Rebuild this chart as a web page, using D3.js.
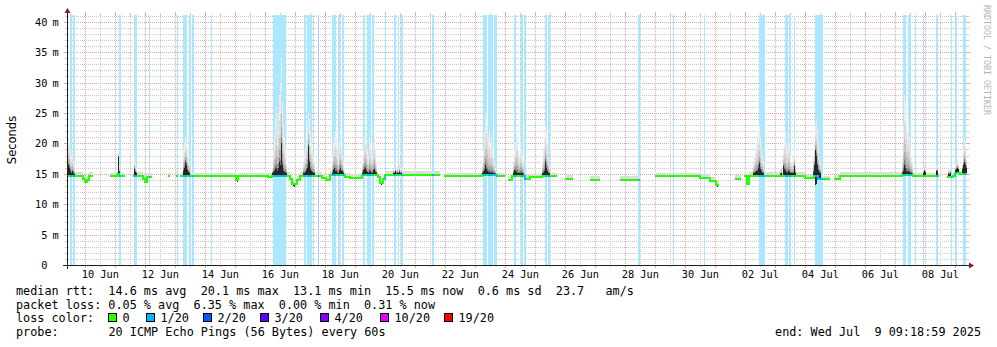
<!DOCTYPE html>
<html>
<head>
<meta charset="utf-8">
<title>SmokePing latency – last 30 days</title>
<script src="https://cdn.jsdelivr.net/npm/d3@7/dist/d3.min.js"></script>
<style>
  html, body { margin: 0; padding: 0; background: #ffffff; }
  svg { display: block; }
  .mono { font-family: "DejaVu Sans Mono", "Liberation Mono", monospace; }
  .sans { font-family: "DejaVu Sans", "Liberation Sans", sans-serif; }
</style>
</head>
<body>
<svg id="chart" width="997" height="347"></svg>
<script>
// ---------------- data ----------------
const rangeStart = "2025-06-09 09:18:59";
const rangeEnd = "2025-07-09 09:18:59";
const stepMinutes = 48;                 // consolidated sample width

const yTickValues = [0, 5, 10, 15, 20, 25, 30, 35, 40];
const yMinorStep = 1;
const yUnit = "m";
const yTop = 41.1;
const dayLabels = ["06-10", "06-12", "06-14", "06-16", "06-18", "06-20", "06-22",
                   "06-24", "06-26", "06-28", "06-30", "07-02", "07-04", "07-06", "07-08"];

const lossCounts = ["0", "1/20", "2/20", "3/20", "4/20", "10/20", "19/20"];
const lossColors = ["#26ff00", "#00b8ff", "#0059ff", "#5e00ff", "#7e00ff", "#dd00ff", "#ff0000"];

// median round trip time: [from, to, ms]
const medianRuns = [
  ["06-09 09:19", "06-09 22:07", 14.7], ["06-09 22:07", "06-09 23:43", 14.2],
  ["06-09 23:43", "06-10 01:19", 13.6], ["06-10 01:19", "06-10 02:55", 14.0],
  ["06-10 02:55", "06-10 06:07", 14.7],
  ["06-10 19:43", "06-11 01:19", 14.6], ["06-11 01:19", "06-11 02:55", 14.9],
  ["06-11 02:55", "06-11 07:43", 14.6],
  ["06-11 14:07", "06-11 22:07", 14.7], ["06-11 22:07", "06-11 23:43", 14.1],
  ["06-11 23:43", "06-12 01:19", 13.7], ["06-12 01:19", "06-12 05:19", 14.5],
  ["06-12 18:07", "06-12 19:43", 14.6],
  ["06-13 00:31", "06-13 02:07", 14.7],
  ["06-13 03:43", "06-15 00:31", 14.6], ["06-15 00:31", "06-15 02:07", 14.0],
  ["06-15 02:07", "06-16 02:07", 14.6], ["06-16 02:07", "06-16 05:19", 14.5],
  ["06-16 05:19", "06-16 19:43", 14.7], ["06-16 19:43", "06-16 21:19", 14.2],
  ["06-16 21:19", "06-17 01:19", 13.3], ["06-17 01:19", "06-17 03:43", 14.0],
  ["06-17 03:43", "06-17 21:19", 14.7], ["06-17 21:19", "06-18 00:31", 14.3],
  ["06-18 00:31", "06-18 03:43", 14.0], ["06-18 03:43", "06-18 15:43", 14.8],
  ["06-18 15:43", "06-18 19:43", 14.5], ["06-18 19:43", "06-19 05:19", 14.3],
  ["06-19 05:19", "06-19 18:07", 14.8], ["06-19 18:07", "06-19 19:43", 14.4],
  ["06-19 19:43", "06-19 22:07", 13.5], ["06-19 22:07", "06-19 23:43", 14.2],
  ["06-19 23:43", "06-21 19:43", 14.8],
  ["06-21 22:55", "06-23 05:19", 14.6], ["06-23 05:19", "06-23 17:19", 14.8],
  ["06-23 17:19", "06-23 23:43", 14.6],
  ["06-24 02:07", "06-24 05:19", 14.0], ["06-24 05:19", "06-24 15:43", 14.6],
  ["06-24 15:43", "06-24 19:43", 14.2], ["06-24 19:43", "06-25 05:19", 14.4],
  ["06-25 05:19", "06-25 10:55", 14.7], ["06-25 10:55", "06-25 17:19", 14.6],
  ["06-25 23:43", "06-26 06:07", 14.2],
  ["06-26 19:43", "06-27 03:43", 14.0],
  ["06-27 19:43", "06-28 11:43", 14.0],
  ["06-28 23:43", "06-30 11:43", 14.6], ["06-30 11:43", "06-30 19:43", 14.3],
  ["06-30 19:43", "07-01 00:31", 13.8], ["07-01 00:31", "07-01 02:55", 13.2],
  ["07-01 15:43", "07-01 20:31", 14.2],
  ["07-01 22:55", "07-02 01:19", 14.6], ["07-02 01:19", "07-02 02:55", 13.3],
  ["07-02 02:55", "07-03 23:43", 14.7], ["07-03 23:43", "07-04 06:55", 14.3],
  ["07-04 06:55", "07-04 10:07", 14.6], ["07-04 10:07", "07-04 19:43", 14.1],
  ["07-04 22:55", "07-05 03:43", 14.2], ["07-05 03:43", "07-07 05:19", 14.7],
  ["07-07 05:19", "07-07 14:07", 14.8], ["07-07 14:07", "07-08 10:55", 14.6],
  ["07-08 17:19", "07-08 22:07", 14.4], ["07-08 22:07", "07-08 23:43", 14.6],
  ["07-08 23:43", "07-09 03:43", 15.2], ["07-09 03:43", "07-09 09:19", 14.9]
];

// periods with lost pings: [from, to, lost out of 20]
const lossPeriods = [
  ["06-09 11:43", "06-09 13:19", 1], ["06-09 14:07", "06-09 15:43", 1],
  ["06-11 02:55", "06-11 04:31", 1], ["06-11 14:55", "06-11 17:19", 1],
  ["06-12 02:55", "06-12 03:43", 1], ["06-13 01:19", "06-13 02:07", 1],
  ["06-13 06:07", "06-13 09:19", 1], ["06-13 10:55", "06-13 12:31", 1],
  ["06-13 13:19", "06-13 14:55", 1], ["06-14 04:31", "06-14 05:19", 1],
  ["06-16 06:07", "06-16 16:31", 1],
  ["06-17 06:55", "06-17 08:31", 1], ["06-17 09:19", "06-17 13:19", 1],
  ["06-17 14:07", "06-17 14:55", 1], ["06-17 18:07", "06-17 18:55", 2],
  ["06-18 05:19", "06-18 08:31", 1], ["06-18 10:07", "06-18 11:43", 1],
  ["06-18 13:19", "06-18 14:55", 1],
  ["06-19 06:07", "06-19 07:43", 1], ["06-19 09:19", "06-19 12:31", 1],
  ["06-19 13:19", "06-19 14:55", 1], ["06-19 23:43", "06-20 00:31", 1],
  ["06-20 06:55", "06-20 08:31", 1], ["06-20 10:07", "06-20 10:55", 1],
  ["06-20 12:31", "06-20 14:07", 1], ["06-21 13:19", "06-21 14:55", 1],
  ["06-23 06:07", "06-23 09:19", 1], ["06-23 10:07", "06-23 14:07", 1],
  ["06-23 14:55", "06-23 17:19", 1],
  ["06-24 06:55", "06-24 08:31", 1], ["06-24 12:31", "06-24 14:07", 1],
  ["06-24 14:55", "06-24 16:31", 1],
  ["06-25 07:43", "06-25 09:19", 1], ["06-25 10:07", "06-25 11:43", 1],
  ["06-28 10:07", "06-28 11:43", 1], ["06-29 14:07", "06-29 14:55", 1],
  ["06-30 14:55", "06-30 15:43", 1],
  ["07-02 10:55", "07-02 15:43", 1],
  ["07-03 07:43", "07-03 10:07", 1], ["07-03 10:55", "07-03 12:31", 1],
  ["07-03 14:55", "07-03 15:43", 1], ["07-04 07:43", "07-04 14:07", 1],
  ["07-07 06:07", "07-07 08:31", 1], ["07-07 10:07", "07-07 12:31", 1],
  ["07-07 15:43", "07-07 16:31", 1], ["07-07 22:07", "07-07 22:55", 1],
  ["07-08 08:31", "07-08 10:07", 1], ["07-08 20:31", "07-08 21:19", 1],
  ["07-08 23:43", "07-09 01:19", 1], ["07-09 06:07", "07-09 08:31", 1]
];

// ordinary spread of the pings above the median (ms)
const smokeSpread = 0.6;

// bursts of slow pings: [first sample, slowest ping per sample, upper edge of the dense core]
const smokeBursts = [
  ["06-09 09:19", [19.5, 21, 20, 19, 18, 18.5, 17.5, 16.5], [15.5, 16.5, 16, 15.5, 15.2, 15.5, 15.1, 15]],
  ["06-11 02:07", [18.5, 16.5], [17.8, 15.3]],
  ["06-11 14:55", [18, 17, 16], [15.8, 15.3, 15.1]],
  ["06-13 06:07", [19, 20, 21, 20, 19, 18, 17], [15.5, 16, 17, 16.5, 15.6, 15.3, 15.1]],
  ["06-16 05:19", [16, 19, 21, 24, 26, 22, 25, 28, 30, 34, 27, 23, 21, 19, 17],
                  [15.1, 15.3, 15.5, 15.8, 16, 15.5, 16, 17, 16.5, 20, 16.5, 15.5, 15.3, 15.2, 15.1]],
  ["06-17 06:07", [17, 18, 19, 21, 23, 25, 24, 22, 20, 19, 18, 17],
                  [15.1, 15.2, 15.3, 15.6, 16, 19.5, 17, 15.8, 15.4, 15.3, 15.2, 15.1]],
  ["06-18 05:19", [18, 20, 21, 22, 21, 19, 18, 20, 22, 19, 18, 17],
                  [15.2, 15.6, 16, 15.5, 15.4, 15.2, 15.1, 15.6, 16, 15.4, 15.5, 15.2]],
  ["06-19 05:19", [17, 19, 21, 22, 20, 19, 18, 21, 20, 19, 18, 20, 21, 19, 17],
                  [15.1, 15.6, 15.8, 16, 15.5, 15.3, 15.2, 15.5, 15.3, 15.2, 15.2, 15.6, 15.8, 15.3, 15.1]],
  ["06-20 06:07", [16, 15.8, 17, 16, 16.5, 16, 17, 16, 16], [15.2, 15.1, 15.4, 15.1, 15.2, 15.1, 15.3, 15.1, 15.2]],
  ["06-23 05:19", [17, 19, 22, 24, 25, 23, 21, 22, 20, 21, 19, 18, 17, 16],
                  [15.1, 15.3, 15.6, 16.4, 15.8, 15.5, 15.3, 15.3, 15.2, 15.3, 15.2, 15.1, 15.1, 15.0]],
  ["06-24 06:07", [17, 19, 20, 22, 21, 19, 18, 20, 19, 18, 17],
                  [15.1, 15.6, 15.5, 15.3, 15.2, 15.1, 15.1, 15.2, 15.2, 15.1, 15.0]],
  ["06-25 05:19", [17, 19, 21, 23, 22, 20, 18, 16.5], [15.1, 15.2, 15.5, 17, 16, 15.4, 15.2, 15.1]],
  ["07-02 06:07", [17, 18, 19, 20, 21, 22, 23, 21, 19, 18, 17],
                  [15.1, 15.2, 15.3, 15.4, 15.5, 16, 16.7, 15.8, 15.4, 15.2, 15.1]],
  ["07-03 03:43", [16, 16.5], [15, 15.1]],
  ["07-03 06:07", [19, 21, 22, 20, 19, 21, 20, 18, 17, 17, 18, 19, 17],
                  [16.3, 15.8, 15.5, 15.3, 15.2, 15.4, 15.3, 15.2, 15.1, 15.1, 15.2, 16.3, 15.2]],
  ["07-04 06:07", [18, 20, 23, 24, 22, 20, 18, 17], [15.3, 16.5, 18.9, 18, 16.5, 15.6, 15.3, 15.1]],
  ["07-07 05:19", [18, 23, 28, 27, 24, 22, 24, 21, 19, 18, 17],
                  [15.1, 15.5, 16.5, 16, 15.5, 15.3, 15.5, 15.3, 15.2, 15.1, 15.0]],
  ["07-07 22:07", [16, 16.5, 16], [15.2, 15.5, 15.3]],
  ["07-08 08:31", [16.5, 16.3], [15.5, 15.4]],
  ["07-08 18:07", [15.8, 15.6, 16], [15, 15, 15.2]],
  ["07-08 23:43", [16.5, 17, 17.2, 16.5], [15.6, 15.8, 16, 15.8]],
  ["07-09 05:19", [17, 19, 21, 20, 18], [15.8, 16.5, 17, 16.5, 16]]
];

// fastest pings where they drop below the median: [first sample, ms per sample]
const smokeDips = [
  ["06-09 23:43", [13.4, 13.5]],
  ["06-12 00:31", [13.5, 13.6]],
  ["06-15 01:19", [13.7]],
  ["06-16 22:07", [13.0, 12.9, 13.1, 13.2]],
  ["06-19 20:31", [13.2, 13.3]],
  ["07-01 01:19", [12.9, 13.0]],
  ["07-02 02:07", [13.1]],
  ["07-04 07:43", [13.2, 13.3]]
];

const rttStats = [14.6, 20.1, 13.1, 15.5];
const lossStats = [0.05, 6.35, 0.00, 0.31];
const statNames = ["avg", "max", "min", "now"];
const rttSd = 0.6;
const rttAmS = 23.7;
const probeText = "20 ICMP Echo Pings (56 Bytes) every 60s";

// ---------------- drawing ----------------
const svg = d3.select("#chart");
const parseFull = d3.timeParse("%Y-%m-%d %H:%M:%S");
const parseShort = d3.timeParse("%Y-%m-%d %H:%M");
const T = s => parseShort("2025-" + s);
const stepMs = stepMinutes * 60000;

const plot = { left: 67, right: 967, top: 15, bottom: 265 };
const x = d3.scaleTime().domain([parseFull(rangeStart), parseFull(rangeEnd)]).range([plot.left, plot.right]);
const y = d3.scaleLinear().domain([0, yTop]).range([plot.bottom, plot.top]);

const gridColor = "#c9c9c9";
const mgridColor = "#eba3a3";
const arrowColor = "#801f1f";
const axisColor = "#1f1f1f";
const lighten = c => d3.interpolateRgb(c, "#ffffff")(0.67);

const runs = medianRuns.map(([a, b, v]) => ({ from: T(a), to: T(b), v }));
const medianAt = t => { const r = runs.find(r => t >= r.from && t < r.to); return r ? r.v : 14.6; };
const px = v => Math.round(v);

// grid
const gGrid = svg.append("g").attr("shape-rendering", "crispEdges");
const yMinor = d3.range(yMinorStep, yTop, yMinorStep).filter(v => !yTickValues.includes(v));
yMinor.forEach(v => {
  const yy = px(y(v)) + 0.5;
  gGrid.append("line").attr("x1", plot.left + 1).attr("x2", plot.right).attr("y1", yy).attr("y2", yy)
    .attr("stroke", gridColor).attr("stroke-dasharray", "1,1");
  gGrid.append("line").attr("x1", plot.left - 2).attr("x2", plot.left).attr("y1", yy).attr("y2", yy).attr("stroke", gridColor);
  gGrid.append("line").attr("x1", plot.right).attr("x2", plot.right + 2).attr("y1", yy).attr("y2", yy).attr("stroke", gridColor);
});
yTickValues.filter(v => v > 0).forEach(v => {
  const yy = px(y(v)) + 0.5;
  gGrid.append("line").attr("x1", plot.left + 1).attr("x2", plot.right).attr("y1", yy).attr("y2", yy)
    .attr("stroke", mgridColor).attr("stroke-dasharray", "1,1");
  gGrid.append("line").attr("x1", plot.left - 3).attr("x2", plot.left).attr("y1", yy).attr("y2", yy).attr("stroke", mgridColor);
  gGrid.append("line").attr("x1", plot.right).attr("x2", plot.right + 3).attr("y1", yy).attr("y2", yy).attr("stroke", mgridColor);
});
const [d0, d1] = x.domain();
d3.timeHour.every(12).range(d0, d1).forEach(t => {
  const major = t.getHours() === 0;
  const xx = px(x(t)) + 0.5;
  const col = major ? mgridColor : gridColor;
  const tick = major ? 3 : 2;
  gGrid.append("line").attr("x1", xx).attr("x2", xx).attr("y1", plot.top).attr("y2", plot.bottom)
    .attr("stroke", col).attr("stroke-dasharray", "1,1");
  gGrid.append("line").attr("x1", xx).attr("x2", xx).attr("y1", plot.bottom).attr("y2", plot.bottom + tick).attr("stroke", col);
  gGrid.append("line").attr("x1", xx).attr("x2", xx).attr("y1", plot.top - tick).attr("y2", plot.top).attr("stroke", col);
});

// loss background stripes
const gLoss = svg.append("g").attr("shape-rendering", "crispEdges");
lossPeriods.forEach(([a, b, n]) => {
  const x0 = px(x(T(a))), x1 = Math.max(px(x(T(b))), x0 + 1);
  gLoss.append("rect").attr("x", x0).attr("y", plot.top).attr("width", x1 - x0).attr("height", plot.bottom - plot.top)
    .attr("fill", lighten(lossColors[Math.min(n, 2)]));
});

// smoke
const gSmoke = svg.append("g").attr("shape-rendering", "crispEdges");
runs.forEach(r => {
  const x0 = px(x(r.from)), x1 = px(x(r.to));
  gSmoke.append("rect").attr("x", x0).attr("width", Math.max(1, x1 - x0))
    .attr("y", y(r.v + smokeSpread)).attr("height", y(r.v) - y(r.v + smokeSpread)).attr("fill", "#dcdcdc");
});
const shades = [[1.0, "#ececec"], [0.62, "#dadada"], [0.36, "#c4c4c4"], [0.18, "#a6a6a6"], [0.06, "#7a7a7a"], [0.0, "#262626"]];
smokeBursts.forEach(([start, hi, core]) => {
  const t0 = +T(start);
  hi.forEach((h, i) => {
    const t = new Date(t0 + i * stepMs);
    const m = medianAt(t), c = core[i];
    const x0 = px(x(t)), x1 = px(x(new Date(+t + stepMs)));
    shades.forEach(([f, col]) => {
      const top = c + (h - c) * f;
      gSmoke.append("rect").attr("x", x0).attr("width", Math.max(1, x1 - x0))
        .attr("y", y(top)).attr("height", Math.max(0, y(m) - y(top))).attr("fill", col);
    });
  });
});
smokeDips.forEach(([start, lows]) => {
  const t0 = +T(start);
  lows.forEach((lo, i) => {
    const t = new Date(t0 + i * stepMs);
    const m = medianAt(t);
    const x0 = px(x(t)), x1 = px(x(new Date(+t + stepMs)));
    gSmoke.append("rect").attr("x", x0).attr("width", Math.max(1, x1 - x0))
      .attr("y", y(m)).attr("height", y(lo) - y(m)).attr("fill", "#262626");
  });
});

// median line
const pts = [];
runs.forEach((r, i) => {
  pts.push({ t: r.from, v: r.v }, { t: r.to, v: r.v });
  const next = runs[i + 1];
  if (next && +next.from !== +r.to) pts.push({ t: r.to, v: null });
});
const line = d3.line().defined(d => d.v !== null).x(d => px(x(d.t))).y(d => px(y(d.v)));
const gMed = svg.append("g");
gMed.append("path").attr("d", line(pts)).attr("fill", "none").attr("stroke", lossColors[0])
  .attr("stroke-width", 2).attr("shape-rendering", "crispEdges");
const defs = svg.append("defs");
lossPeriods.forEach(([a, b, n], i) => {
  const x0 = px(x(T(a))), x1 = Math.max(px(x(T(b))), x0 + 1);
  defs.append("clipPath").attr("id", "lc" + i).append("rect")
    .attr("x", x0).attr("y", 0).attr("width", x1 - x0).attr("height", 347);
  gMed.append("path").attr("d", line(pts)).attr("fill", "none").attr("stroke", lossColors[Math.min(n, 2)])
    .attr("stroke-width", 2).attr("shape-rendering", "crispEdges").attr("clip-path", `url(#lc${i})`);
});

// axes
const gAxis = svg.append("g").attr("shape-rendering", "crispEdges");
gAxis.append("line").attr("x1", plot.left - 4).attr("x2", plot.right + 3).attr("y1", plot.bottom + 0.5).attr("y2", plot.bottom + 0.5)
  .attr("stroke", axisColor);
gAxis.append("line").attr("x1", plot.left + 0.5).attr("x2", plot.left + 0.5).attr("y1", plot.bottom + 4).attr("y2", plot.top - 3)
  .attr("stroke", axisColor);
svg.append("path").attr("d", `M${plot.right + 2},${plot.bottom - 2.5}L${plot.right + 7},${plot.bottom + 0.5}L${plot.right + 2},${plot.bottom + 3.5}Z`)
  .attr("fill", arrowColor);
svg.append("path").attr("d", `M${plot.left - 2.5},${plot.top - 2}L${plot.left + 0.5},${plot.top - 7}L${plot.left + 3.5},${plot.top - 2}Z`)
  .attr("fill", arrowColor);

// axis labels
const axisFont = 10.3;
yTickValues.forEach(v => {
  const yy = px(y(v)) + 0.5;
  svg.append("text").attr("class", "mono").attr("x", 47.5).attr("y", yy).attr("dy", "0.36em")
    .attr("text-anchor", "end").attr("font-size", axisFont).text(v);
  if (v > 0) svg.append("text").attr("class", "mono").attr("x", 52.5).attr("y", yy).attr("dy", "0.36em")
    .attr("font-size", axisFont).text(yUnit);
});
const fmtDay = d3.timeFormat("%d %b");
dayLabels.forEach(d => {
  const t = T(d + " 12:00");
  svg.append("text").attr("class", "mono").attr("x", x(t)).attr("y", 278)
    .attr("text-anchor", "middle").attr("font-size", axisFont).text(fmtDay(t));
});
svg.append("text").attr("class", "sans").attr("transform", "translate(15.5,140) rotate(-90)")
  .attr("text-anchor", "middle").attr("font-size", 11.5).text("Seconds");
svg.append("text").attr("class", "mono").attr("transform", "translate(984,5) rotate(90)")
  .attr("font-size", 8.3).attr("fill", "#b4b4b4").text("RRDTOOL / TOBI OETIKER");

// legend
const legendFont = 11.8;
const lx = 16;
const lineY = [295, 308.7, 322.3, 336];
const legText = (str, xx, yy, anchor) => svg.append("text").attr("class", "mono").attr("x", xx).attr("y", yy)
  .attr("font-size", legendFont).attr("text-anchor", anchor || "start").style("white-space", "pre").text(str);
legText("median rtt:  " + rttStats.map((v, i) => v.toFixed(1) + " ms " + statNames[i]).join("  ")
  + "  " + rttSd.toFixed(1) + " ms sd  " + rttAmS.toFixed(1) + "   am/s", lx, lineY[0]);
legText("packet loss: " + lossStats.map((v, i) => v.toFixed(2) + " % " + statNames[i]).join("  "), lx, lineY[1]);
legText("loss color:", lx, lineY[2]);
const boxX = [108, 146, 203, 260, 320, 380, 444];
lossCounts.forEach((lab, i) => {
  svg.append("rect").attr("x", boxX[i] + 0.5).attr("y", lineY[2] - 8.5).attr("width", 8).attr("height", 8)
    .attr("fill", lossColors[i]).attr("stroke", "#000").attr("stroke-width", 1).attr("shape-rendering", "crispEdges");
  legText(lab, boxX[i] + 14.5, lineY[2]);
});
legText("probe:", lx, lineY[3]);
legText(probeText, 108.5, lineY[3]);
legText("end: " + "Wed Jul  9 09:18:59 2025", 981, lineY[3], "end");
</script>
</body>
</html>
